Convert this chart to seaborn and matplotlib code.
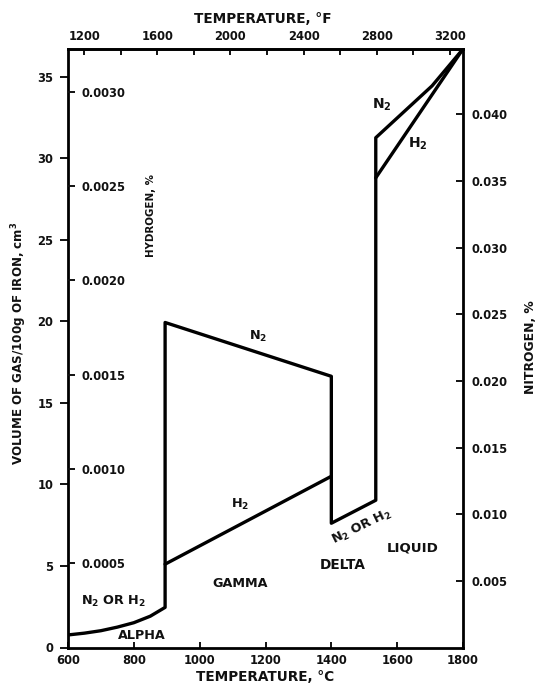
import matplotlib
matplotlib.use("Agg")
import matplotlib.pyplot as plt
import pandas as pd
import seaborn as sns
from matplotlib.ticker import FormatStrFormatter

# Solubility of hydrogen and nitrogen in iron: volume of gas per 100 g of iron (cm3)
alpha_temp = [600, 650, 700, 750, 800, 850, 895]
alpha_vol = [0.77, 0.88, 1.03, 1.25, 1.52, 1.92, 2.46]
gamma_n2_temp = [895, 1400]
gamma_n2_vol = [19.93, 16.63]
gamma_h2_temp = [895, 1400]
gamma_h2_vol = [5.11, 10.5]
delta_temp = [1400, 1535]
delta_vol = [7.62, 9.03]
liquid_n2_temp = [1535, 1706, 1800]
liquid_n2_vol = [31.26, 34.44, 36.7]
liquid_h2_temp = [1535, 1800]
liquid_h2_vol = [28.8, 36.7]

vol_ticks = [0, 5, 10, 15, 20, 25, 30, 35]
temp_c_ticks = [600, 800, 1000, 1200, 1400, 1600, 1800]
temp_f_major = [1200, 1600, 2000, 2400, 2800, 3200]
temp_f_minor = [1400, 1800, 2200, 2600, 3000]
h_pct_ticks = [0.0005, 0.0010, 0.0015, 0.0020, 0.0025, 0.0030]
n_pct_ticks = [0.005, 0.010, 0.015, 0.020, 0.025, 0.030, 0.035, 0.040]

# Outline: alpha curve, gamma N2, delta, liquid N2 joined as one path
outline_temp = alpha_temp + gamma_n2_temp + delta_temp + liquid_n2_temp
outline_vol = alpha_vol + gamma_n2_vol + delta_vol + liquid_n2_vol

df = pd.concat([
    pd.DataFrame({"temp": outline_temp, "vol": outline_vol, "path": "outline"}),
    pd.DataFrame({"temp": gamma_h2_temp, "vol": gamma_h2_vol, "path": "gamma_h2"}),
    pd.DataFrame({"temp": liquid_h2_temp, "vol": liquid_h2_vol, "path": "liquid_h2"}),
], ignore_index=True)

sns.set_style("ticks")
plt.rcParams["font.family"] = ["DejaVu Sans"]
plt.rcParams["font.weight"] = "bold"
plt.rcParams["mathtext.default"] = "regular"
plt.rcParams["text.color"] = "#111111"
plt.rcParams["xtick.color"] = "#111111"
plt.rcParams["ytick.color"] = "#111111"

TICK_FS = 8.3
REG_FS = 9.2

fig = plt.figure(figsize=(5.38, 6.84), dpi=100)
ax = fig.add_axes([68 / 538, 1 - 647.5 / 684, 395 / 538, 598.5 / 684])

sns.lineplot(data=df, x="temp", y="vol", units="path", estimator=None, sort=False,
             color="black", linewidth=2.4, ax=ax, legend=False)

ax.set_xlim(600, 1800)
ax.set_ylim(0, 36.7)
ax.set_xlabel("")
ax.set_ylabel("")
for s in ax.spines.values():
    s.set_visible(True)
    s.set_linewidth(2.0)
    s.set_color("black")

ax.set_xticks(temp_c_ticks)
ax.set_xticklabels([str(t) for t in temp_c_ticks], fontsize=TICK_FS, fontweight="bold")
ax.tick_params(axis="x", direction="in", length=4, width=1.4, pad=5)
ax.set_yticks(vol_ticks)
ax.set_yticklabels([str(v) for v in vol_ticks], fontsize=TICK_FS, fontweight="bold")
ax.tick_params(axis="y", direction="out", length=5.5, width=1.4, pad=5)

# Fahrenheit scale along the top
top = ax.secondary_xaxis("top", functions=(lambda c: c * 9 / 5 + 32, lambda f: (f - 32) * 5 / 9))
top.set_xticks(temp_f_major)
top.set_xticks(temp_f_minor, minor=True)
top.set_xticklabels([str(t) for t in temp_f_major], fontsize=TICK_FS, fontweight="bold")
top.tick_params(axis="x", which="both", direction="in", length=4, width=1.4, pad=4)
top.spines["top"].set_linewidth(2.0)

# Nitrogen percent on the right
ax_n = ax.twinx()
ax_n.set_ylim(0, 0.0449)
ax_n.set_yticks(n_pct_ticks)
ax_n.yaxis.set_major_formatter(FormatStrFormatter("%.3f"))
ax_n.tick_params(axis="y", direction="in", length=5, width=1.4, pad=6, labelsize=TICK_FS)
for s in ax_n.spines.values():
    s.set_visible(False)

# Hydrogen percent, labelled inside the left edge
ax_h = ax.twinx()
ax_h.set_ylim(0.00005, 0.00323)
ax_h.yaxis.set_ticks_position("left")
ax_h.set_yticks(h_pct_ticks)
ax_h.yaxis.set_major_formatter(FormatStrFormatter("%.4f"))
ax_h.tick_params(axis="y", direction="in", length=5, width=1.4, pad=-9.5, labelsize=TICK_FS)
for s in ax_h.spines.values():
    s.set_visible(False)

# Axis titles
fig.text(263 / 538, 1 - 19 / 684, "TEMPERATURE, °F", ha="center", va="center", fontsize=9.8, fontweight="bold")
fig.text(265 / 538, 1 - 677 / 684, "TEMPERATURE, °C", ha="center", va="center", fontsize=9.8, fontweight="bold")
fig.text(19 / 538, 1 - 343 / 684, "VOLUME OF GAS/100g OF IRON, cm$^3$", ha="center", va="center",
         rotation=90, fontsize=8.6, fontweight="bold")
fig.text(531 / 538, 1 - 347 / 684, "NITROGEN, %", ha="center", va="center",
         rotation=90, fontsize=8.9, fontweight="bold")
ax.text(852, 26.5, "HYDROGEN, %", ha="center", va="center", rotation=90,
        fontsize=7.4, fontweight="bold")

# Phase and gas labels
ax.text(1177, 19.1, "N$_2$", ha="center", va="center", fontsize=REG_FS, fontweight="bold")
ax.text(1123, 8.8, "H$_2$", ha="center", va="center", fontsize=REG_FS, fontweight="bold")
ax.text(1123, 3.95, "GAMMA", ha="center", va="center", fontsize=REG_FS, fontweight="bold")
ax.text(1436, 5.05, "DELTA", ha="center", va="center", fontsize=REG_FS + 0.6, fontweight="bold")
ax.text(1646, 6.1, "LIQUID", ha="center", va="center", fontsize=REG_FS + 0.4, fontweight="bold")
ax.text(1494, 7.4, "N$_2$ OR H$_2$", ha="center", va="center", rotation=26,
        fontsize=REG_FS, fontweight="bold")
ax.text(737, 2.85, "N$_2$ OR H$_2$", ha="center", va="center", fontsize=REG_FS, fontweight="bold")
ax.text(825, 0.75, "ALPHA", ha="center", va="center", fontsize=REG_FS, fontweight="bold")
ax.text(1554, 33.3, "N$_2$", ha="center", va="center", fontsize=REG_FS + 0.8, fontweight="bold")
ax.text(1664, 30.9, "H$_2$", ha="center", va="center", fontsize=REG_FS + 0.8, fontweight="bold")

for lab in ax_h.get_yticklabels():
    lab.set_horizontalalignment("left")
    lab.set_fontweight("bold")
for lab in ax_n.get_yticklabels():
    lab.set_fontweight("bold")

fig.savefig("out.png", dpi=100)
